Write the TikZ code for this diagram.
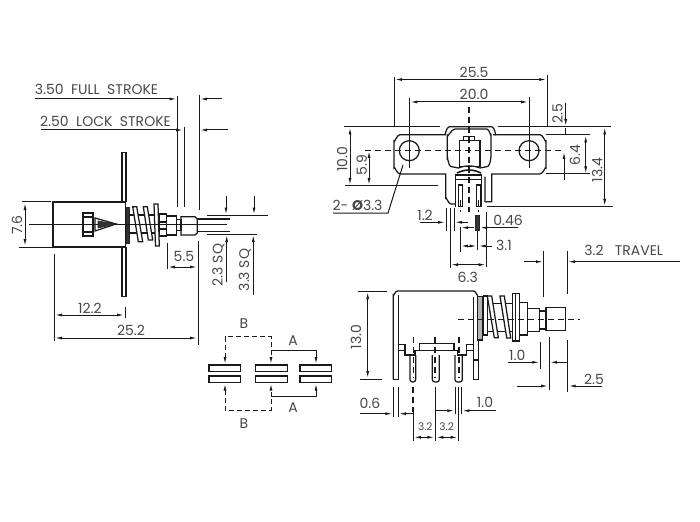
\documentclass[tikz,border=0pt]{standalone}
\usepackage{fontspec}
\setmainfont{Poppins}
\usetikzlibrary{arrows.meta}
\tikzset{
	part/.style={line width=1.25pt, color=black!90},
	dimline/.style={line width=1pt, color=black!90},
	centerline/.style={line width=1.1pt, color=black!90, dash pattern=on 6pt off 4pt},
	darkfill/.style={fill=black!80, draw=black!85, line width=0.6pt},
	greyfill/.style={fill=black!30, draw=black!90, line width=1.1pt},
	lbl/.style={inner sep=0pt, font=\fontsize{14}{16}\selectfont, text=black!72},
	lblsmall/.style={inner sep=0pt, font=\fontsize{10.5}{12}\selectfont, text=black!72},
	>={Latex[length=7pt,width=3pt]}
}

\begin{document}
\begin{tikzpicture}[x=1pt,y=-1pt]
	%%%%% START %%%%%
	\useasboundingbox (0, 0) rectangle (700, 521);

	%%%%% left view, body
	\draw[part] (122, 202) -- (122, 152.5) -- (126, 152.5) -- (126, 202);
	\draw[part] (122, 247) -- (122, 296.5) -- (126, 296.5) -- (126, 247);
	\draw[part] (53, 202) rectangle (125.5, 247);
	\draw[dimline] (29, 224) -- (116, 224);
	\draw[part] (83, 213) rectangle (93, 236);
	\draw[part] (83, 217) -- (93, 217);
	\draw[part] (83, 232) -- (93, 232);
	\draw[part] (95, 218) -- (116, 224) -- (95, 231) -- cycle;
	\draw[darkfill] (98, 221) -- (116, 224) -- (98, 228) -- cycle;
	\draw[darkfill] (126, 207) rectangle (129.3, 243);
	\draw[part] (129.3, 215) -- (155, 215);
	\draw[part] (129.3, 233) -- (155, 233);
	\draw[part, fill=white] (132.7, 206.7) -- (136.7, 206.7) -- (142.7, 241.7) -- (138.3, 241.7) -- cycle;
	\draw[part, fill=white] (143.3, 206.7) -- (147.3, 206.7) -- (152.7, 240) -- (148.3, 240) -- cycle;
	\draw[part, fill=white] (154, 204) -- (158, 204) -- (159.3, 246) -- (155.5, 246) -- cycle;
	\draw[part] (159.3, 214) rectangle (166.7, 236);
	\draw[part] (159.3, 222) -- (166.7, 222);
	\draw[part] (159.3, 229) -- (166.7, 229);
	\draw[part] (166.7, 216) rectangle (176.7, 235);
	\draw[part] (176.7, 219.3) rectangle (181, 230.7);
	\draw[part] (181, 216.7) -- (195, 216.7) -- (197.3, 219) -- (197.3, 233) -- (195, 235) -- (181, 235) -- cycle;
	\draw[part] (197.3, 219) -- (230, 219);
	\draw[part] (197.3, 231.7) -- (230, 231.7);
	\draw[dimline] (116, 224) -- (227, 224);

	%%%%% left view, dimensions
	\node[lbl] (lblFull) at (96.5, 89) {3.50\ \ FULL\ \ STROKE};
	\draw[dimline, ->] (35, 99) -- (176.5, 99);
	\draw[dimline, ->] (222, 99) -- (200, 99);
	\node[lbl] (lblLock) at (105.5, 121) {2.50\ \ LOCK\ \ STROKE};
	\draw[dimline, ->] (41, 130) -- (183, 130);
	\draw[dimline, ->] (228, 130) -- (200, 130);
	\draw[dimline] (177.5, 96) -- (177.5, 207);
	\draw[dimline] (184, 127) -- (184, 207);
	\draw[dimline] (199, 95) -- (199, 210);
	\draw[dimline] (22, 202) -- (51, 202);
	\draw[dimline] (19, 247) -- (53, 247);
	\draw[dimline, <->] (25, 203) -- (25, 246);
	\node[lbl, rotate=90] (lblBody) at (17, 225) {7.6};
	\draw[dimline] (207, 215.3) -- (268, 215.3);
	\draw[dimline] (207, 234.3) -- (257, 234.3);
	\draw[dimline, ->] (226, 196) -- (226, 214.5);
	\draw[dimline, ->] (254, 196) -- (254, 214.5);
	\draw[dimline, ->] (226.7, 282) -- (226.7, 235);
	\draw[dimline, ->] (253.3, 295) -- (253.3, 235);
	\node[lbl, rotate=90] (lblInner) at (218.5, 265) {2.3 SQ};
	\node[lbl, rotate=90] (lblOuter) at (245, 270) {3.3 SQ};
	\draw[dimline] (167, 243) -- (167, 269);
	\draw[dimline] (198, 241) -- (198, 345);
	\draw[dimline, <->] (168, 267) -- (197, 267);
	\node[lbl] (lblStem) at (184, 256) {5.5};
	\draw[dimline] (54, 254) -- (54, 341);
	\draw[dimline, <->] (55, 338) -- (197, 338);
	\node[lbl] (lblLength) at (131, 330) {25.2};
	\draw[dimline] (125, 307) -- (125, 318);
	\draw[dimline, <->] (55, 315) -- (124, 315);
	\node[lbl] (lblPlate) at (90, 308) {12.2};

	%%%%% schematic
	\foreach \px in {209, 255.7, 300} {
		\draw[part] (\px, 365) rectangle (\px+31.7, 371.7);
		\draw[part] (\px, 376) rectangle (\px+31.7, 382.7);
	}
	\draw[dimline, dash pattern=on 5pt off 3pt, <-] (225, 364) -- (225, 336.7) -- (271, 336.7) -- (271, 350);
	\draw[dimline, dash pattern=on 5pt off 3pt, ->] (271, 350) -- (271, 364);
	\draw[dimline, ->] (271, 350) -- (316, 350) -- (316, 364);
	\draw[dimline, dash pattern=on 5pt off 3pt, <-] (225, 383.7) -- (225, 410) -- (271, 410) -- (271, 396.7);
	\draw[dimline, dash pattern=on 5pt off 3pt, ->] (271, 396.7) -- (271, 383.7);
	\draw[dimline, ->] (271, 396.7) -- (316, 396.7) -- (316, 383.7);
	\node[lbl] (lblBtop) at (244, 324) {B};
	\node[lbl] (lblAtop) at (293, 341) {A};
	\node[lbl] (lblAbot) at (293, 408) {A};
	\node[lbl] (lblBbot) at (244, 424) {B};

	%%%%% top right view
	\draw[part] (445, 134.7) -- (400, 134.7) to[out=180, in=-90] (394, 141) -- (394, 168) to[out=90, in=180] (400, 174) -- (445.7, 174) -- (445.7, 198) to[out=90, in=180] (451, 204) -- (455.7, 204);
	\draw[part] (493, 134.7) -- (540, 134.7) to[out=0, in=-90] (546, 141) -- (546, 168) to[out=90, in=0] (540, 174) -- (491.7, 174) -- (491.7, 201.7) -- (485, 201.7) -- (485, 176.7);
	\draw[part] (445, 134) to[out=-90, in=180] (449.3, 126.7) -- (491.7, 126.7) to[out=0, in=-90] (495.7, 134);
	\draw[part] (447.3, 135) to[out=-90, in=180] (455, 129) -- (486.7, 129) to[out=0, in=-90] (491, 135) -- (491, 155) to[out=90, in=0] (486.7, 166.7) -- (480, 168) to[out=160, in=20] (458.3, 168) -- (451.7, 166.7) to[out=180, in=90] (447.3, 156.7) -- cycle;
	\draw[part] (459.3, 140.7) rectangle (480, 166.7);
	\draw[part] (463.3, 136.7) rectangle (474.3, 140.7);
	\draw[part, line width=1.6pt] (457, 173) to[out=25, in=155] (481, 173);
	\draw[part] (409.3, 150.7) circle (10);
	\draw[part] (529, 150.7) circle (10);
	\draw[part] (455.7, 175) rectangle (481.7, 179.3);
	\draw[part] (455.7, 179.3) -- (455.7, 207);
	\draw[part] (481.7, 179.3) -- (481.7, 207);
	\draw[part, fill=white] (458.3, 185) rectangle (462.3, 206.7);
	\draw[part, fill=white] (476.7, 185) rectangle (480.7, 206.7);
	\draw[centerline] (460.3, 200) -- (460.3, 212);
	\draw[centerline] (478.7, 200) -- (478.7, 212);
	\draw[centerline] (365, 150.7) -- (562.7, 150.7);
	\draw[centerline] (469, 107) -- (469, 212);

	%%%%% top right view, dimensions
	\draw[dimline] (394, 77) -- (394, 127);
	\draw[dimline] (547.3, 75) -- (547.3, 127);
	\draw[dimline, <->] (395, 79.5) -- (546.3, 79.5);
	\node[lbl] (lblWidth) at (474, 72) {25.5};
	\draw[dimline] (409.3, 97.7) -- (409.3, 168);
	\draw[dimline] (529, 97) -- (529, 168);
	\draw[dimline, <->] (410.3, 102) -- (528, 102);
	\node[lbl] (lblHoles) at (474, 94) {20.0};
	\draw[dimline] (344, 126.7) -- (439.7, 126.7);
	\draw[dimline] (498.3, 126.7) -- (610.7, 126.7);
	\draw[dimline] (546, 134.9) -- (590, 134.9);
	\draw[dimline] (546, 174) -- (590, 174);
	\draw[dimline] (487, 206.7) -- (613, 206.7);
	\draw[dimline, ->] (565.7, 103) -- (565.7, 126);
	\draw[dimline] (565.7, 128) -- (565.7, 134);
	\node[lbl, rotate=90] (lblFlange) at (557.5, 114) {2.5};
	\draw[dimline, <->] (585.7, 135.5) -- (585.7, 173.5);
	\node[lbl, rotate=90] (lblPlateH) at (575, 155) {6.4};
	\draw[dimline, ->] (564, 180) -- (564, 152);
	\draw[dimline, <->] (604.7, 127.5) -- (604.7, 206);
	\node[lbl, rotate=90] (lblTotalH) at (597.3, 170) {13.4};
	\draw[dimline] (345, 185.7) -- (438, 185.7);
	\draw[dimline, <->] (350, 127.5) -- (350, 185);
	\node[lbl, rotate=90] (lblTen) at (342.3, 159) {10.0};
	\draw[dimline, <->] (369, 151) -- (369, 185);
	\node[lbl, rotate=90] (lblHoleH) at (361.7, 165) {5.9};
	\draw[dimline] (403, 165) -- (388, 213) -- (333, 213);
	\node[lbl] (lblDia) at (357.5, 205) {2- {\bfseries Ø}3.3};
	\node[lbl] (lblPinW) at (425, 215) {1.2};
	\draw[dimline, ->] (420, 222.3) -- (445, 222.3);
	\draw[dimline, ->] (468, 222.3) -- (455, 222.3);
	\draw[dimline] (446, 208) -- (446, 231);
	\draw[dimline] (450, 208) -- (450, 268);
	\draw[dimline] (454, 208) -- (454, 231);
	\draw[dimline] (460, 226.7) -- (460, 251.7);
	\draw[darkfill] (475, 215) rectangle (479, 230);
	\draw[dimline] (477.7, 230) -- (477.7, 250);
	\draw[dimline, ->] (474, 227.7) -- (461, 227.7);
	\draw[dimline, ->] (518.3, 227.7) -- (480, 227.7);
	\node[lbl] (lblPinT) at (508, 220) {0.46};
	\draw[dimline] (486.7, 212) -- (486.7, 267);
	\draw[dimline, <->] (461, 246) -- (476.7, 246);
	\draw[dimline, ->] (491.7, 246) -- (478.7, 246);
	\node[lbl] (lblPitch) at (504, 245) {3.1};
	\draw[dimline, <->] (451, 264.7) -- (485.7, 264.7);
	\node[lbl] (lblSpan) at (467.7, 277) {6.3};

	%%%%% side view, body
	\draw[part] (393.3, 379.3) -- (393.3, 295) to[out=-90, in=180] (397.3, 291) -- (473.7, 291) to[out=0, in=-90] (477.7, 295);
	\draw[part] (398.3, 295) -- (398.3, 379.3) -- (393.3, 379.3);
	\draw[part] (473.3, 296.7) -- (473.3, 379.3) -- (478.3, 379.3) -- (478.3, 340);
	\draw[part] (473.3, 360) -- (478.3, 360);
	\draw[part] (398.3, 344.3) -- (405, 344.3) -- (405, 355) -- (415, 355) -- (415, 350.7) -- (419.3, 350.7) -- (419.3, 343.3) -- (454, 343.3) -- (454, 350.7) -- (457.3, 350.7) -- (457.3, 355) -- (466.7, 355) -- (466.7, 344.3) -- (473.3, 344.3);
	\draw[part] (398.3, 350.7) -- (405, 350.7);
	\draw[part] (419.3, 350.7) -- (454, 350.7);
	\draw[part] (466.7, 350.7) -- (473.3, 350.7);
	\foreach \px/\pw in {410/5.7, 432.3/7, 455/7.3} {
		\draw[part, rounded corners=2.5pt] (\px, 355) -- (\px, 382) -- (\px+\pw, 382) -- (\px+\pw, 355);
	}
	\draw[greyfill] (477.7, 296.7) rectangle (482.3, 340);
	\draw[part] (482.3, 303.3) -- (513, 303.3);
	\draw[part] (482.3, 331.7) -- (513, 331.7);
	\draw[part, fill=white] (483.3, 296) rectangle (487.3, 335);
	\draw[part, fill=white] (487.3, 296) -- (491.7, 296) -- (498.3, 337.7) -- (494.3, 337.7) -- cycle;
	\draw[part, fill=white] (500, 296) -- (504.3, 296) -- (510.7, 338) -- (506.7, 338) -- cycle;
	\draw[part, fill=white] (512.3, 293.3) -- (519.3, 293.3) -- (519.3, 341) -- (512.3, 341) -- cycle;
	\draw[part] (515.5, 293.3) -- (515.5, 341);
	\draw[part] (519.3, 302.3) rectangle (527.3, 335);
	\draw[part] (527.3, 308.3) rectangle (539.3, 331.7);
	\draw[part] (539.3, 311) rectangle (546, 329);
	\draw[part] (546, 307.7) rectangle (565.7, 330.7);
	\draw[centerline] (458, 319.3) -- (580, 319.3);
	\draw[centerline] (413.3, 336.7) -- (413.3, 378);
	\draw[centerline] (435, 336.7) -- (435, 378);
	\draw[centerline] (459, 336.7) -- (459, 378);

	%%%%% side view, dimensions
	\node[lbl] (lblTravel) at (623.7, 250) {3.2\ \ \ TRAVEL};
	\draw[dimline, ->] (680, 261.7) -- (568, 261.7);
	\draw[dimline, ->] (524.3, 261.7) -- (543, 261.7);
	\draw[dimline] (543.7, 251) -- (543.7, 297);
	\draw[dimline] (567, 251) -- (567, 294);
	\draw[dimline] (357.7, 291) -- (387, 291);
	\draw[dimline] (360, 379) -- (382.3, 379);
	\draw[dimline, <->] (367.7, 292) -- (367.7, 378);
	\node[lbl, rotate=90] (lblHeight) at (356, 337) {13.0};
	\node[lbl] (lblCollar) at (517.3, 355.7) {1.0};
	\draw[dimline, ->] (507.7, 362.3) -- (539.3, 362.3);
	\draw[dimline] (540.3, 341.7) -- (540.3, 369);
	\draw[dimline] (549, 337.3) -- (549, 390);
	\draw[dimline] (567.7, 340) -- (567.7, 392.3);
	\draw[dimline, ->] (567.7, 362.3) -- (550, 362.3);
	\draw[dimline, ->] (516.7, 386) -- (548, 386);
	\draw[dimline, ->] (601.7, 386) -- (568.7, 386);
	\node[lbl] (lblButton) at (594, 379) {2.5};
	\draw[dimline] (393.3, 387.3) -- (393.3, 416.7);
	\draw[dimline] (398, 387.3) -- (398, 416.7);
	\node[lbl] (lblWall) at (370, 403) {0.6};
	\draw[dimline, ->] (360, 413.7) -- (392.3, 413.7);
	\draw[dimline, ->] (413, 413.7) -- (399, 413.7);
	\draw[centerline] (413, 386.7) -- (413, 412);
	\draw[dimline] (413, 412) -- (413, 440.7);
	\draw[dimline] (435.3, 386.7) -- (435.3, 440.7);
	\draw[dimline] (458.7, 387) -- (458.7, 440.7);
	\draw[dimline] (455.3, 387) -- (455.3, 414);
	\draw[dimline] (461.3, 387) -- (461.3, 414);
	\node[lbl] (lblPinS) at (485, 402.7) {1.0};
	\draw[dimline, ->] (435.3, 410.7) -- (454.3, 410.7);
	\draw[dimline, ->] (495.7, 410.7) -- (462.3, 410.7);
	\node[lblsmall] (lblLeftP) at (425.3, 427) {3.2};
	\node[lblsmall] (lblRightP) at (446.7, 427) {3.2};
	\draw[dimline, <->] (414, 437.3) -- (434.3, 437.3);
	\draw[dimline, <->] (436.3, 437.3) -- (457.7, 437.3);

	%%%%% END %%%%%
\end{tikzpicture}
\end{document}
